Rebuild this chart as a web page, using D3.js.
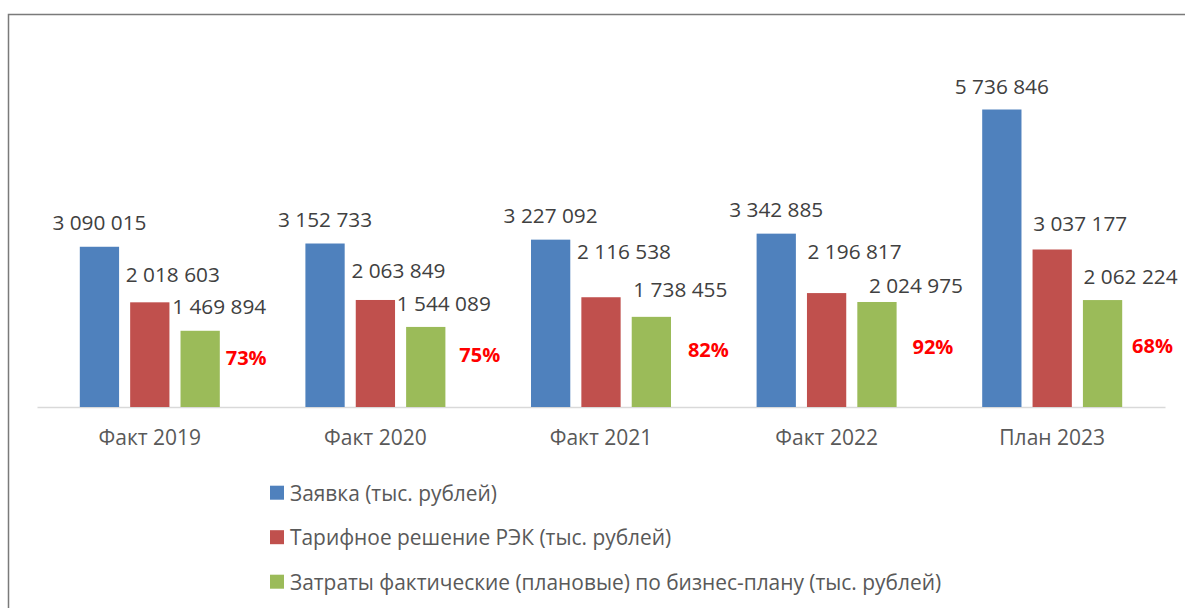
<!DOCTYPE html>
<html>
<head>
<meta charset="utf-8">
<script src="https://cdn.jsdelivr.net/npm/d3@7"></script>
<style>
  html, body { margin: 0; padding: 0; background: #fff; }
  svg { display: block; font-family: 'Open Sans', 'Noto Sans', sans-serif; }
</style>
</head>
<body>
<div id="chart"></div>
<script>
  const categories = ['Факт 2019', 'Факт 2020', 'Факт 2021', 'Факт 2022', 'План 2023'];
  const seriesNames = [
    'Заявка (тыс. рублей)',
    'Тарифное решение РЭК (тыс. рублей)',
    'Затраты фактические (плановые) по бизнес-плану (тыс. рублей)'
  ];
  const zayavka = [3090015, 3152733, 3227092, 3342885, 5736846];
  const tarifRek = [2018603, 2063849, 2116538, 2196817, 3037177];
  const zatraty = [1469894, 1544089, 1738455, 2024975, 2062224];
  const percents = [73, 75, 82, 92, 68];

  const W = 1185, H = 608;
  const BASE = 407, TOP = 44;
  const colors = ['#4f81bd', '#c0504d', '#9bbb59'];

  // manual label nudges, as in the source slide (px)
  const labelNudge = [
    [[0, 0], [23, -3], [19, 0]],
    [[0, 0], [23, -5], [18, 1]],
    [[0, 0], [23, -21], [29, -3]],
    [[0, 0], [28, -17], [39, 8]],
    [[0, 1], [28, -2], [28, 1]]
  ];
  const pctNudge = [[46, -50], [54, -53], [57, -58], [56, -61], [50, -62]];

  const fmt = d3.formatLocale({ decimal: ',', thousands: ' ', grouping: [3], currency: ['', ''] }).format(',');

  const svg = d3.select('#chart').append('svg')
    .attr('width', W).attr('height', H);

  // chart frame
  svg.append('rect')
    .attr('x', 8.5).attr('y', 14.5)
    .attr('width', W + 10).attr('height', H + 10)
    .attr('fill', 'none')
    .attr('stroke', '#7a7a7a')
    .attr('stroke-width', 1.5);

  const x0 = d3.scaleBand().domain(categories).range([37, 1165]);
  const groupW = 140;
  const x1 = d3.scaleBand().domain(d3.range(3)).range([0, groupW]).paddingInner(0.22);
  const y = d3.scaleLinear().domain([0, 7000000]).range([BASE, TOP]);

  const series = [zayavka, tarifRek, zatraty];

  // axis
  const axis = svg.append('g')
    .attr('transform', `translate(0,${BASE})`)
    .call(d3.axisBottom(x0).tickSize(0).tickSizeOuter(0));
  axis.select('.domain').attr('stroke', '#d9d9d9').attr('stroke-width', 1.3);
  axis.selectAll('text')
    .attr('y', 31).attr('dy', '0.35em')
    .attr('fill', '#595959')
    .style('font-size', '21px')
    .style('font-family', "'Open Sans', sans-serif");

  // bars + value labels
  series.forEach((vals, s) => {
    const g = svg.append('g');
    g.selectAll('rect')
      .data(vals)
      .enter()
      .append('rect')
      .attr('x', (d, i) => x0(categories[i]) + (x0.bandwidth() - groupW) / 2 + x1(s))
      .attr('y', d => y(d))
      .attr('width', x1.bandwidth())
      .attr('height', d => BASE - y(d))
      .attr('fill', colors[s]);

    g.selectAll('text')
      .data(vals)
      .enter()
      .append('text')
      .attr('x', (d, i) => x0(categories[i]) + (x0.bandwidth() - groupW) / 2 + x1(s) + x1.bandwidth() / 2 + labelNudge[i][s][0])
      .attr('y', d => y(d) - 25)
      .attr('dy', (d, i) => (labelNudge[i][s][1]) + 'px')
      .attr('text-anchor', 'middle')
      .attr('dominant-baseline', 'central')
      .attr('fill', '#404040')
      .style('font-size', '20.8px')
      .text(d => fmt(d));
  });

  // percentages (Затраты / Тарифное решение)
  svg.append('g').selectAll('text')
    .data(percents)
    .enter()
    .append('text')
    .attr('x', (d, i) => x0(categories[i]) + (x0.bandwidth() - groupW) / 2 + x1(2) + x1.bandwidth() / 2 + pctNudge[i][0])
    .attr('y', (d, i) => y(0) + pctNudge[i][1])
    .attr('text-anchor', 'middle')
    .attr('dominant-baseline', 'central')
    .attr('fill', '#ff0000')
    .style('font-size', '20px')
    .style('font-weight', 'bold')
    .text(d => d + '%');

  // legend
  const legend = svg.append('g');
  seriesNames.forEach((name, s) => {
    const cy = 492.7 + s * 44.5;
    legend.append('rect')
      .attr('x', 270).attr('y', cy - 7)
      .attr('width', 14).attr('height', 14)
      .attr('fill', colors[s]);
    legend.append('text')
      .attr('x', 290).attr('y', cy)
      .attr('dominant-baseline', 'central')
      .attr('fill', '#595959')
      .style('font-size', '20.9px')
      .text(name);
  });
</script>
</body>
</html>
